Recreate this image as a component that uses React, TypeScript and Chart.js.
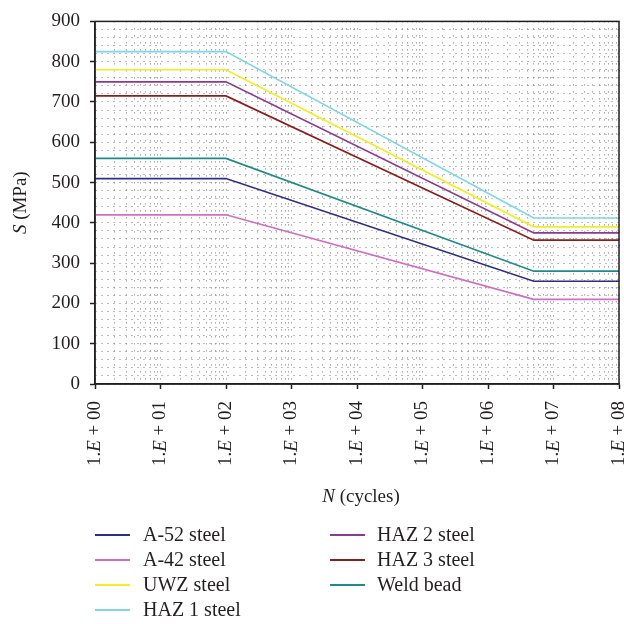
import React, { useEffect, useRef } from "react";
import { Chart, registerables } from "chart.js";

Chart.register(...registerables);

// ---- data ----
const seriesNames = [
  "A-52 steel",
  "A-42 steel",
  "UWZ steel",
  "HAZ 1 steel",
  "HAZ 2 steel",
  "HAZ 3 steel",
  "Weld bead",
];
const seriesColors = [
  "#2c2f85",
  "#d26cc4",
  "#f2ee22",
  "#7fd6e6",
  "#8d3994",
  "#8c1d1d",
  "#1f8a8a",
];
const cycles = [1, 100, 5e6, 1e8];
const a52 = [510, 510, 255, 255];
const a42 = [420, 420, 210, 210];
const uwz = [780, 780, 390, 390];
const haz1 = [825, 825, 412, 412];
const haz2 = [750, 750, 375, 375];
const haz3 = [715, 715, 357, 357];
const weld = [560, 560, 280, 280];
const seriesValues = [a52, a42, uwz, haz1, haz2, haz3, weld];
const xTickExponents = ["00", "01", "02", "03", "04", "05", "06", "07", "08"];
const yMin = 0;
const yMax = 900;
const yMinorStep = 20;
const yMajorStep = 100;

const FONT = "'Liberation Serif', 'Times New Roman', serif";
const TEXT = "#231f20";
const GRID = "#7a7a7a";

function drawParts(
  ctx: CanvasRenderingContext2D,
  parts: [string, boolean][],
  size: number,
  align: "center" | "right"
) {
  const widths = parts.map(([t, it]) => {
    ctx.font = `${it ? "italic " : ""}${size}px ${FONT}`;
    return ctx.measureText(t).width;
  });
  const total = widths.reduce((a, b) => a + b, 0);
  let x = align === "center" ? -total / 2 : -total;
  ctx.textAlign = "left";
  ctx.textBaseline = "middle";
  parts.forEach(([t, it], i) => {
    ctx.font = `${it ? "italic " : ""}${size}px ${FONT}`;
    ctx.fillText(t, x, 0);
    x += widths[i];
  });
}

const decorPlugin = {
  id: "decor",
  afterDraw(chart: any) {
    const { ctx, chartArea } = chart;
    const xs = chart.scales.x;
    ctx.save();
    // box border
    ctx.strokeStyle = TEXT;
    ctx.lineWidth = 1.5;
    ctx.strokeRect(
      chartArea.left,
      chartArea.top,
      chartArea.right - chartArea.left,
      chartArea.bottom - chartArea.top
    );
    ctx.fillStyle = TEXT;
    // x tick labels
    xTickExponents.forEach((e, i) => {
      const px = xs.getPixelForValue(Math.pow(10, i));
      ctx.save();
      ctx.translate(px, chartArea.bottom + 17);
      ctx.rotate(-Math.PI / 2);
      drawParts(
        ctx,
        [
          ["1.", false],
          ["E", true],
          [" + " + e, false],
        ],
        19,
        "right"
      );
      ctx.restore();
    });
    // x title
    ctx.save();
    ctx.translate((chartArea.left + chartArea.right) / 2 + 4, 497);
    drawParts(
      ctx,
      [
        ["N", true],
        [" (cycles)", false],
      ],
      19,
      "center"
    );
    ctx.restore();
    // y title
    ctx.save();
    ctx.translate(21, (chartArea.top + chartArea.bottom) / 2);
    ctx.rotate(-Math.PI / 2);
    drawParts(
      ctx,
      [
        ["S", true],
        [" (MPa)", false],
      ],
      19,
      "center"
    );
    ctx.restore();
    ctx.restore();
  },
};

export default function App() {
  const ref = useRef<HTMLCanvasElement | null>(null);

  useEffect(() => {
    if (!ref.current) return;
    const isDecade = (v: number) => {
      const l = Math.log10(v);
      return Math.abs(l - Math.round(l)) < 1e-9;
    };
    const chart = new Chart(ref.current, {
      type: "line",
      data: {
        datasets: seriesNames.map((name, i) => ({
          label: name,
          data: cycles.map((c, j) => ({ x: c, y: seriesValues[i][j] })),
          borderColor: seriesColors[i],
          backgroundColor: seriesColors[i],
          borderWidth: 1.7,
          pointRadius: 0,
          tension: 0,
          fill: false,
        })),
      },
      options: {
        animation: false,
        responsive: false,
        layout: { padding: { top: 17, right: 5, left: 0, bottom: 0 } },
        plugins: {
          legend: { display: false },
          tooltip: { enabled: false },
        },
        scales: {
          x: {
            type: "logarithmic",
            min: 1,
            max: 1e8,
            afterBuildTicks: (scale: any) => {
              const t: any[] = [];
              for (let e = 0; e < 8; e++) {
                for (let m = 1; m <= 9; m++) t.push({ value: m * Math.pow(10, e) });
              }
              t.push({ value: 1e8 });
              scale.ticks = t;
            },
            afterFit: (scale: any) => {
              scale.height = 240;
            },
            ticks: { display: false, autoSkip: false },
            grid: {
              color: GRID,
              lineWidth: 1,
              tickLength: 5,
              tickWidth: 1.5,
              tickBorderDash: [],
              tickColor: (c: any) =>
                c.tick && isDecade(c.tick.value) ? TEXT : "rgba(0,0,0,0)",
            },
            border: { display: true, color: TEXT, width: 1.5, dash: [1, 6] },
          },
          y: {
            type: "linear",
            min: yMin,
            max: yMax,
            afterFit: (scale: any) => {
              scale.width = 95;
            },
            ticks: {
              stepSize: yMinorStep,
              autoSkip: false,
              padding: 10,
              color: TEXT,
              font: { family: FONT, size: 19 },
              callback: (v: any) => (Number(v) % yMajorStep === 0 ? String(v) : ""),
            },
            grid: {
              color: GRID,
              lineWidth: 1,
              tickLength: 5,
              tickWidth: 1.5,
              tickBorderDash: [],
              tickColor: (c: any) =>
                c.tick && c.tick.value % yMajorStep === 0 ? TEXT : "rgba(0,0,0,0)",
            },
            border: { display: true, color: TEXT, width: 1.5, dash: [1, 5] },
          },
        },
      } as any,
      plugins: [decorPlugin],
    });
    return () => chart.destroy();
  }, []);

  const rowTop = 522;
  const rowH = 25;
  const columns = [
    { idx: [0, 1, 2, 3], lineX: 95, textX: 143 },
    { idx: [4, 5, 6], lineX: 330, textX: 377 },
  ];

  return (
    <div style={{ position: "absolute", left: 0, top: 0, width: 624, height: 624, background: "#fff" }}>
      <canvas ref={ref} width={624} height={624} style={{ display: "block" }} />
      {columns.map((col) =>
        col.idx.map((si, r) => (
          <React.Fragment key={si}>
            <div
              style={{
                position: "absolute",
                left: col.lineX,
                top: rowTop + r * rowH + rowH / 2 - 1,
                width: 35,
                height: 2,
                background: seriesColors[si],
              }}
            />
            <div
              style={{
                position: "absolute",
                left: col.textX,
                top: rowTop + r * rowH,
                height: rowH,
                lineHeight: `${rowH}px`,
                fontFamily: FONT,
                fontSize: 20,
                color: TEXT,
                whiteSpace: "nowrap",
              }}
            >
              {seriesNames[si]}
            </div>
          </React.Fragment>
        ))
      )}
    </div>
  );
}
